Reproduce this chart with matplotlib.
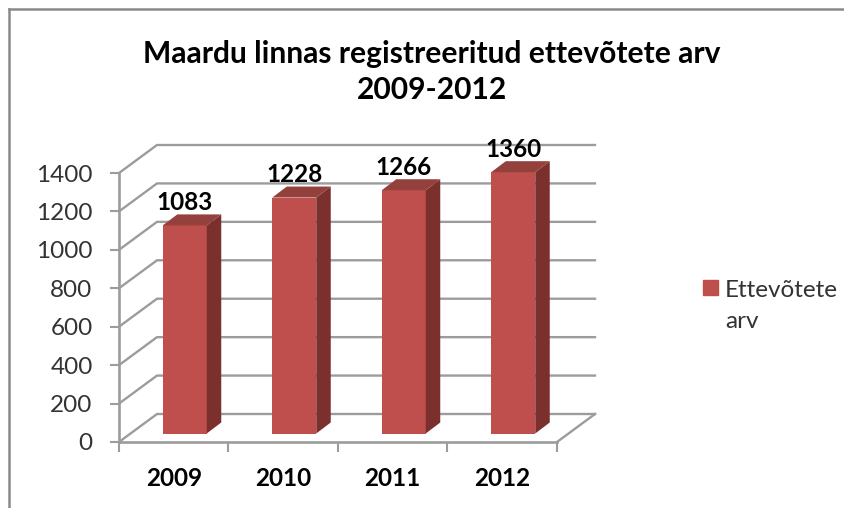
import matplotlib
matplotlib.use("Agg")
import matplotlib.pyplot as plt
from matplotlib.lines import Line2D

years = ["2009", "2010", "2011", "2012"]
values = [1083, 1228, 1266, 1360]
yticks = [0, 200, 400, 600, 800, 1000, 1200, 1400]
title = "Maardu linnas registreeritud ettevõtete arv\n2009-2012"
legend_label = "Ettevõtete\narv"

W, H = 845, 508
plt.rcParams['font.family'] = ['Lato', 'DejaVu Sans']

fig = plt.figure(figsize=(W / 100, H / 100), dpi=100)
# plot box is the front plane of the fake 3d chart
left, right, top, bottom = 119, 557, 173, 442
ax = fig.add_axes([left / W, 1 - bottom / H, (right - left) / W, (bottom - top) / H])
ax.set_xlim(0, len(years))
ax.set_ylim(0, 1400)
ax.patch.set_visible(False)
for s in ax.spines.values():
    s.set_visible(False)

# pixels to data units
px_x = len(years) / (right - left)
px_y = 1400 / (bottom - top)
back_dx, back_dy = 38 * px_x, 28 * px_y
grid_col = "#9c9c9c"

# gridlines on back wall and side wall
for v in yticks:
    ax.plot([0, back_dx, len(years) + back_dx], [v, v + back_dy, v + back_dy],
            color=grid_col, lw=1.7, clip_on=False, zorder=1)
# floor and axes
ax.plot([len(years), len(years) + back_dx], [0, back_dy], color=grid_col, lw=1.7, clip_on=False, zorder=1)
ax.plot([0, len(years)], [0, 0], color=grid_col, lw=1.9, clip_on=False, zorder=1)
ax.plot([0, 0], [0, 1400], color=grid_col, lw=1.9, clip_on=False, zorder=1)

ax.set_yticks(yticks)
ax.set_xticks(range(len(years) + 1))
ax.set_xticklabels([])
ax.tick_params(axis='both', color=grid_col, width=1.5, length=6.5)
ax.tick_params(axis='y', labelsize=17.5, labelcolor="#333333", pad=12.5)
ax.tick_params(axis='x', length=7)

# bars
bar_w = 44 * px_x
off_x, off_y = 11 * px_x, 8.5 * px_y
dep_x, dep_y = 14.5 * px_x, 11 * px_y
for i, v in enumerate(values):
    x0 = i + 0.5 - bar_w / 2 + off_x
    x1 = x0 + bar_w
    y0 = off_y
    y1 = y0 + v
    ax.fill([x0, x1, x1, x0], [y0, y0, y1, y1], color="#be4f4c", lw=0, clip_on=False, zorder=3)
    ax.fill([x1, x1 + dep_x, x1 + dep_x, x1], [y0, y0 + dep_y, y1 + dep_y, y1],
            color="#7b302e", lw=0, clip_on=False, zorder=3)
    ax.fill([x0, x1, x1 + dep_x, x0 + dep_x], [y1, y1, y1 + dep_y, y1 + dep_y],
            color="#94403d", lw=0, clip_on=False, zorder=3)
    ax.annotate(str(v), (x0 + bar_w / 2, y1), xytext=(0, 8), textcoords="offset points",
                ha="center", va="bottom", fontsize=17.5, fontweight="bold", color="black",
                zorder=5, annotation_clip=False)
    ax.annotate(years[i], (i + 0.5, 0), xytext=(0, -36), textcoords="offset pixels",
                ha="center", va="center", fontsize=17.5, fontweight="bold", color="black",
                annotation_clip=False)

fig.text(432 / W, 1 - 72 / H, title, ha="center", va="center", fontsize=21.6,
         fontweight="bold", color="black", linespacing=1.35)

# legend marker and text
fig.patches.append(plt.Rectangle((703 / W, 1 - 295 / H), 15 / W, 15 / H, color="#be4f4c",
                                 transform=fig.transFigure, figure=fig))
fig.text(725 / W, 1 - 306 / H, legend_label, ha="left", va="center", fontsize=17.5,
         color="#333333", linespacing=1.6)

# chart frame, only top and left show in the crop
fig.add_artist(Line2D([9 / W, 9 / W], [0, 1 - 9 / H], color="#8a8a8a", lw=1.8))
fig.add_artist(Line2D([9 / W, 1], [1 - 9 / H, 1 - 9 / H], color="#8a8a8a", lw=1.8))

fig.savefig("out.png", dpi=100)
